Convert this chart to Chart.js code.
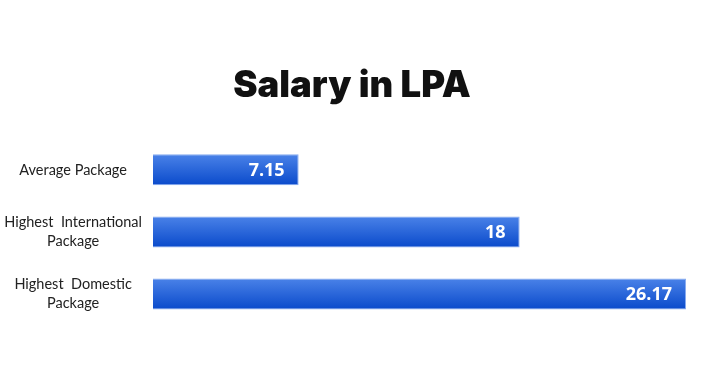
<!DOCTYPE html>
<html><head><meta charset="utf-8">
<script src="https://cdn.jsdelivr.net/npm/chart.js@4"></script>
<style>html,body{margin:0;padding:0;background:#fff}#wrap{width:706px;height:388px}</style>
</head><body><div id="wrap"><canvas id="c"></canvas></div>
<script>
const chartTitle = 'Salary in LPA';
const categories = ['Average Package', ['Highest  International', 'Package'], ['Highest  Domestic', 'Package']];
const salaryValues = [7.15, 18, 26.17];
const valueLabels = ['7.15', '18', '26.17'];

function barGradient(ctx) {
  const chart = ctx.chart;
  const y = chart.scales && chart.scales.y;
  if (!y || !chart.chartArea) return '#1a5ad8';
  const c = y.getPixelForValue(ctx.dataIndex);
  const h = 31;
  const g = chart.ctx.createLinearGradient(0, c - h / 2, 0, c + h / 2);
  g.addColorStop(0, '#4a82e8');
  g.addColorStop(1, '#0a4acb');
  return g;
}

const valueLabelPlugin = {
  id: 'valueLabels',
  afterDatasetsDraw(chart) {
    const ctx = chart.ctx;
    const meta = chart.getDatasetMeta(0);
    ctx.save();
    ctx.fillStyle = '#ffffff';
    ctx.font = 'bold 18px "Open Sans"';
    ctx.textAlign = 'right';
    ctx.textBaseline = 'middle';
    meta.data.forEach((bar, i) => {
      ctx.fillText(valueLabels[i], bar.x - 14, bar.y + 1);
    });
    ctx.restore();
  }
};

new Chart(document.getElementById('c'), {
  type: 'bar',
  data: {
    labels: categories,
    datasets: [{
      data: salaryValues,
      backgroundColor: barGradient,
      borderColor: '#86aaf0',
      borderWidth: 1,
      barPercentage: 0.5,
      categoryPercentage: 1
    }]
  },
  options: {
    indexAxis: 'y',
    responsive: true,
    maintainAspectRatio: false,
    animation: false,
    layout: { padding: { left: 0, right: 2, bottom: 63 } },
    plugins: {
      legend: { display: false },
      tooltip: { enabled: false },
      title: {
        display: true,
        text: chartTitle,
        color: '#111111',
        font: { family: 'Inter', size: 36.5, weight: 900 },
        padding: { top: 64, bottom: 31 }
      }
    },
    scales: {
      x: { display: false, min: 0, max: 27.05 },
      y: {
        afterFit: s => { s.width = 153; },
        grid: { display: false, drawTicks: false },
        border: { display: false },
        ticks: {
          crossAlign: 'center',
          padding: 11,
          color: '#222222',
          font: { family: 'Lato', size: 14.5, lineHeight: 1.35 }
        }
      }
    }
  },
  plugins: [valueLabelPlugin]
});
</script>
</body></html>
